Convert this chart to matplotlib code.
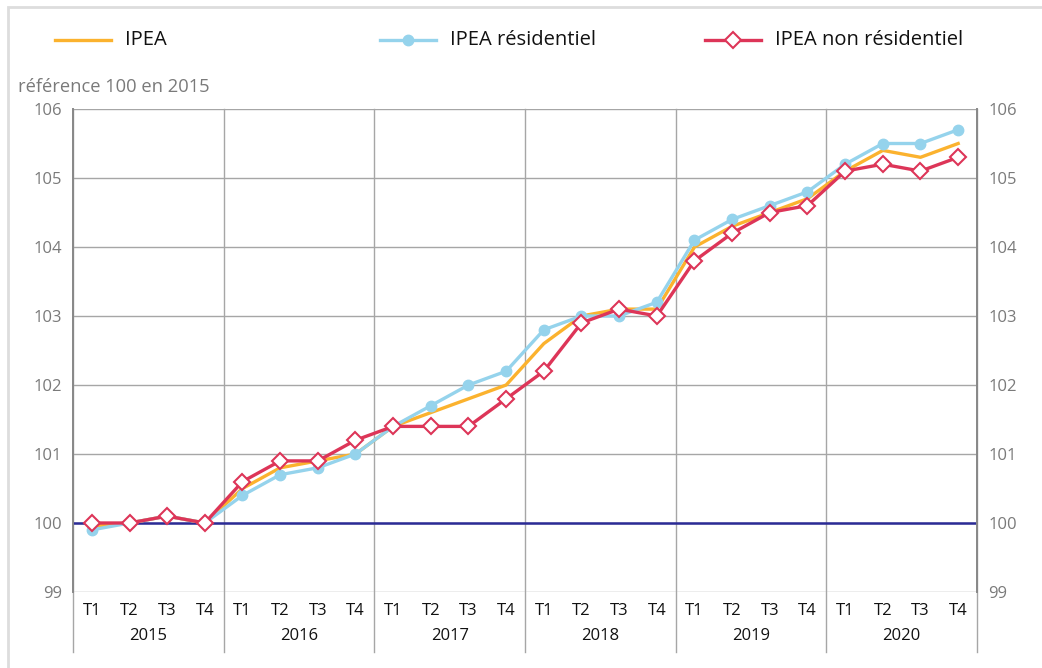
import matplotlib
matplotlib.use("Agg")
import matplotlib.pyplot as plt
from matplotlib.lines import Line2D
from matplotlib.patches import Rectangle
import matplotlib.transforms as mtransforms

plt.rcParams['font.family'] = ['Open Sans', 'DejaVu Sans']

years = ["2015", "2016", "2017", "2018", "2019", "2020"]
quarters = ["T1", "T2", "T3", "T4"]

ipea = [99.95, 100.0, 100.1, 100.0,
        100.5, 100.8, 100.9, 101.0,
        101.4, 101.6, 101.8, 102.0,
        102.6, 103.0, 103.1, 103.1,
        104.0, 104.3, 104.5, 104.7,
        105.1, 105.4, 105.3, 105.5]
ipea_res = [99.9, 100.0, 100.1, 100.0,
            100.4, 100.7, 100.8, 101.0,
            101.4, 101.7, 102.0, 102.2,
            102.8, 103.0, 103.0, 103.2,
            104.1, 104.4, 104.6, 104.8,
            105.2, 105.5, 105.5, 105.7]
ipea_nonres = [100.0, 100.0, 100.1, 100.0,
               100.6, 100.9, 100.9, 101.2,
               101.4, 101.4, 101.4, 101.8,
               102.2, 102.9, 103.1, 103.0,
               103.8, 104.2, 104.5, 104.6,
               105.1, 105.2, 105.1, 105.3]

C_ORANGE = "#FBB22E"
C_BLUE = "#95D3EC"
C_RED = "#DD3558"
C_NAVY = "#2B2B96"
C_GRID = "#A6A6A6"
C_TXT = "#7A7A7A"

W, H = 1042, 668
fig = plt.figure(figsize=(W / 100, H / 100), dpi=100)
ax = fig.add_axes([73 / W, 1 - 592 / H, (977 - 73) / W, (592 - 109) / H])

n = len(ipea)
x = list(range(n))

ax.set_xlim(-0.5, n - 0.5)
ax.set_ylim(99, 106)

# grid
for yv in range(99, 107):
    ax.axhline(yv, color=C_GRID, lw=1.0, zorder=1)
ax.axhline(100, color=C_NAVY, lw=1.8, zorder=2)

# year separators extending below
trans = mtransforms.blended_transform_factory(ax.transData, ax.transAxes)
for k in range(len(years) + 1):
    xb = k * 4 - 0.5
    ax.plot([xb, xb], [1, -0.125], transform=trans, color=C_GRID, lw=1.0,
            clip_on=False, zorder=1)

ax.plot(x, ipea, color=C_ORANGE, lw=2.4, zorder=3)
ax.plot(x, ipea_res, color=C_BLUE, lw=2.4, marker="o", ms=7.5,
        markeredgecolor=C_BLUE, markerfacecolor=C_BLUE, zorder=4)
ax.plot(x, ipea_nonres, color=C_RED, lw=2.4, marker="D", ms=8,
        markerfacecolor="white", markeredgecolor=C_RED, markeredgewidth=1.5, zorder=5)

for s in ax.spines.values():
    s.set_visible(False)
ax.plot([0, 0], [0, 1], transform=ax.transAxes, color="#888888", lw=1.4, clip_on=False, zorder=6)
ax.plot([1, 1], [0, 1], transform=ax.transAxes, color="#888888", lw=1.4, clip_on=False, zorder=6)

ax.set_yticks(range(99, 107))
ax.tick_params(axis="y", length=0, labelsize=12, labelcolor=C_TXT, pad=8)
ax.tick_params(axis="y", which="both", right=False, labelright=True)
ax.set_xticks([])

for i in range(n):
    ax.text(i, -0.04, quarters[i % 4], transform=trans, ha="center", va="center",
            fontsize=12, color="#111111")
for k, yr in enumerate(years):
    ax.text(k * 4 + 1.5, -0.092, yr, transform=trans, ha="center", va="center",
            fontsize=12, color="#111111")

fig.text(18 / W, 1 - 87 / H, "référence 100 en 2015", fontsize=13.2, color=C_TXT,
         ha="left", va="center")

# legend
handles = [
    Line2D([], [], color=C_ORANGE, lw=2.4),
    Line2D([], [], color=C_BLUE, lw=2.4, marker="o", ms=7.5),
    Line2D([], [], color=C_RED, lw=2.4, marker="D", ms=8, markerfacecolor="white",
           markeredgecolor=C_RED, markeredgewidth=1.5),
]
labels = ["IPEA", "IPEA résidentiel", "IPEA non résidentiel"]
xs = [55, 380, 705]
for h, lab, x0 in zip(handles, labels, xs):
    yl = 1 - 40 / H
    fig.add_artist(Line2D([x0 / W, (x0 + 56) / W], [yl, yl], color=h.get_color(), lw=2.4,
                          transform=fig.transFigure))
    if h.get_marker() not in (None, "None", ""):
        fig.add_artist(Line2D([(x0 + 28) / W], [yl], marker=h.get_marker(), ms=h.get_markersize(),
                              markerfacecolor=h.get_markerfacecolor(), markeredgecolor=h.get_markeredgecolor(),
                              markeredgewidth=h.get_markeredgewidth(), linestyle="None",
                              transform=fig.transFigure))
    fig.text((x0 + 70) / W, yl, lab, fontsize=14.5, color="#111111", ha="left", va="center")

# outer border
fig.add_artist(Rectangle((8 / W, -0.1), 1.2, 1 - 7 / H + 0.1, transform=fig.transFigure,
                         fill=False, edgecolor="#DDDDDD", lw=2))

fig.savefig("out.png", dpi=100)
